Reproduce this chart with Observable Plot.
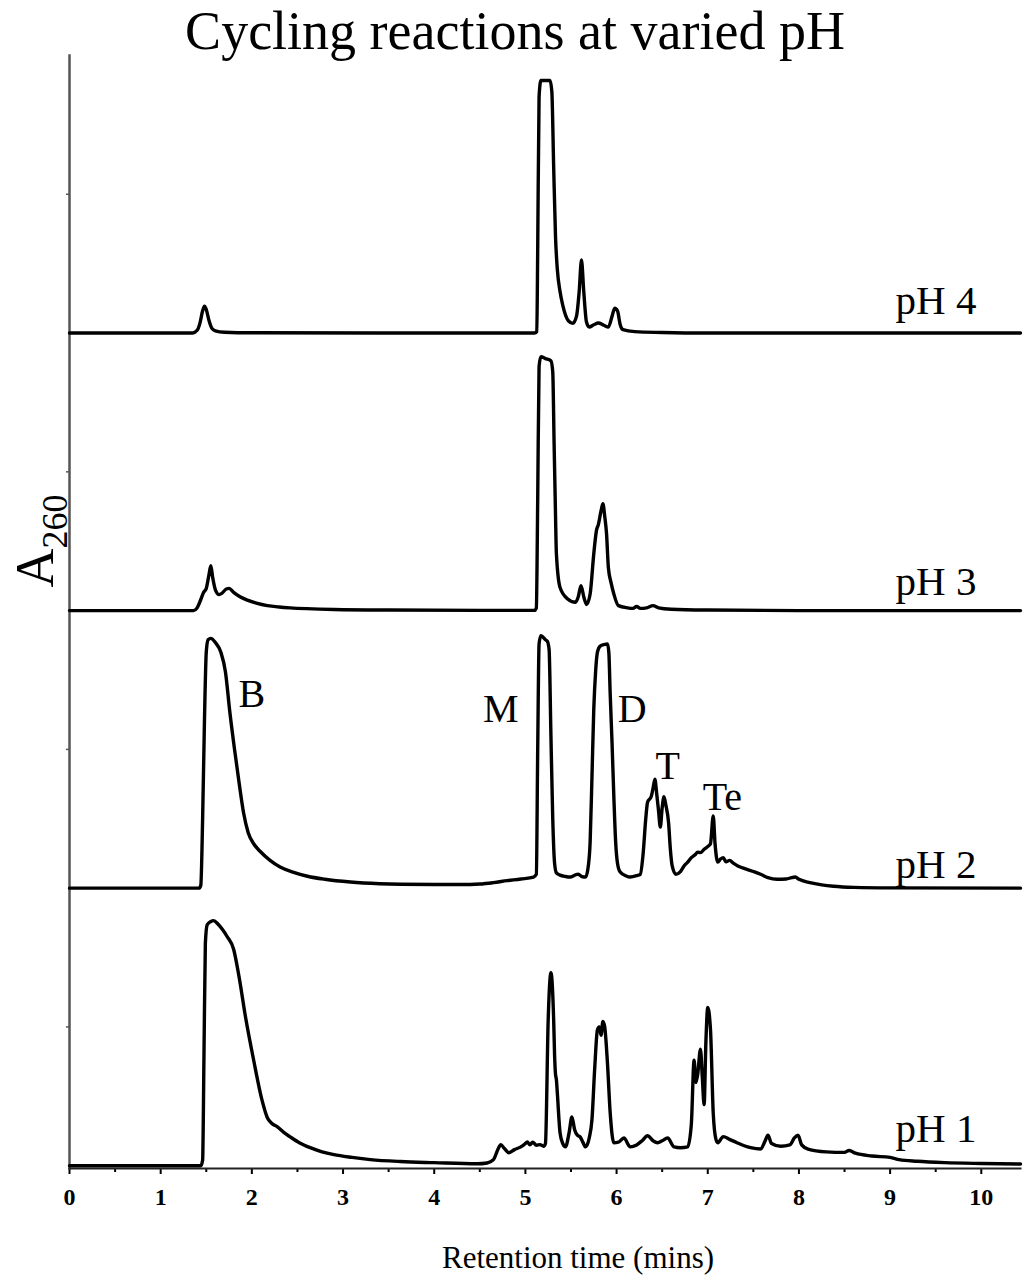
<!DOCTYPE html>
<html>
<head>
<meta charset="utf-8">
<script src="https://cdn.jsdelivr.net/npm/d3@7"></script>
<script src="https://cdn.jsdelivr.net/npm/@observablehq/plot@0.6"></script>
<style>
  html, body { margin: 0; padding: 0; background: #fff; }
  #chart svg { display: block; }
  g[aria-label="x-axis tick label"] text { font-weight: bold; }
</style>
</head>
<body>
<div id="chart"></div>
<script>
// ---------- data (retention time in mins, A260 in arbitrary units) ----------
const seriesNames = ["pH 1", "pH 2", "pH 3", "pH 4"];

const pH1 = [[0,0],[1.44,0],[1.46,0.02],[1.475,0.4],[1.49,0.8],[1.51,0.868],[1.55,0.88],[1.58,0.883],[1.63,0.87],[1.68,0.85],[1.73,0.825],[1.80,0.78],[1.86,0.68],[1.93,0.537],[2.02,0.38],[2.11,0.238],[2.17,0.173],[2.22,0.152],[2.28,0.14],[2.35,0.12],[2.42,0.104],[2.52,0.083],[2.64,0.065],[2.77,0.05],[2.90,0.04],[3.1,0.03],[3.3,0.022],[3.63,0.015],[4.0,0.011],[4.47,0.007],[4.58,0.01],[4.65,0.022],[4.70,0.06],[4.73,0.076],[4.77,0.062],[4.82,0.047],[4.88,0.058],[4.95,0.068],[5.0,0.08],[5.02,0.086],[5.05,0.075],[5.08,0.085],[5.12,0.074],[5.16,0.076],[5.20,0.07],[5.22,0.08],[5.25,0.526],[5.28,0.695],[5.31,0.526],[5.32,0.40],[5.33,0.33],[5.34,0.31],[5.35,0.263],[5.38,0.119],[5.41,0.08],[5.44,0.068],[5.48,0.12],[5.51,0.176],[5.54,0.13],[5.57,0.11],[5.60,0.104],[5.63,0.085],[5.66,0.068],[5.70,0.1],[5.73,0.166],[5.76,0.35],[5.79,0.49],[5.81,0.50],[5.83,0.47],[5.85,0.52],[5.87,0.5],[5.90,0.37],[5.93,0.19],[5.97,0.083],[6.02,0.085],[6.08,0.1],[6.15,0.068],[6.22,0.075],[6.28,0.09],[6.34,0.108],[6.40,0.09],[6.45,0.083],[6.50,0.09],[6.56,0.1],[6.63,0.068],[6.7,0.065],[6.78,0.068],[6.82,0.15],[6.85,0.38],[6.87,0.30],[6.89,0.33],[6.92,0.42],[6.94,0.32],[6.96,0.22],[6.98,0.45],[7.0,0.57],[7.03,0.49],[7.06,0.19],[7.09,0.095],[7.11,0.083],[7.17,0.105],[7.24,0.095],[7.32,0.083],[7.40,0.072],[7.47,0.065],[7.58,0.06],[7.63,0.09],[7.66,0.11],[7.70,0.08],[7.8,0.07],[7.9,0.075],[7.95,0.1],[7.99,0.11],[8.03,0.075],[8.1,0.06],[8.3,0.05],[8.5,0.048],[8.55,0.055],[8.62,0.045],[8.8,0.035],[9.0,0.03],[9.1,0.022],[9.3,0.016],[9.6,0.011],[10.0,0.008],[10.43,0.006]];

const pH2 = [[0,0],[1.42,0],[1.44,0.01],[1.46,0.25],[1.48,0.6],[1.50,0.85],[1.52,0.895],[1.55,0.90],[1.60,0.885],[1.66,0.85],[1.71,0.78],[1.76,0.63],[1.81,0.50],[1.86,0.38],[1.91,0.27],[1.96,0.20],[2.02,0.16],[2.09,0.133],[2.2,0.1],[2.31,0.076],[2.45,0.058],[2.61,0.043],[2.8,0.032],[3.08,0.022],[3.4,0.016],[3.63,0.014],[4.0,0.013],[4.29,0.013],[4.5,0.015],[4.65,0.02],[4.8,0.027],[4.95,0.033],[5.09,0.04],[5.12,0.05],[5.135,0.5],[5.15,0.88],[5.17,0.91],[5.22,0.895],[5.24,0.89],[5.26,0.86],[5.28,0.55],[5.30,0.25],[5.32,0.09],[5.34,0.055],[5.38,0.047],[5.44,0.042],[5.49,0.04],[5.55,0.048],[5.58,0.05],[5.62,0.042],[5.66,0.04],[5.69,0.08],[5.71,0.166],[5.73,0.4],[5.75,0.645],[5.77,0.78],[5.79,0.85],[5.82,0.872],[5.87,0.878],[5.90,0.88],[5.915,0.85],[5.93,0.7],[5.95,0.526],[5.97,0.33],[5.99,0.166],[6.01,0.09],[6.04,0.058],[6.10,0.045],[6.15,0.04],[6.22,0.045],[6.26,0.05],[6.29,0.12],[6.32,0.25],[6.34,0.31],[6.38,0.33],[6.40,0.36],[6.42,0.393],[6.44,0.34],[6.46,0.28],[6.48,0.22],[6.50,0.29],[6.52,0.33],[6.54,0.30],[6.57,0.237],[6.59,0.14],[6.61,0.08],[6.65,0.05],[6.70,0.06],[6.74,0.08],[6.78,0.094],[6.82,0.11],[6.86,0.12],[6.89,0.13],[6.92,0.128],[6.96,0.14],[7.0,0.15],[7.03,0.16],[7.06,0.26],[7.08,0.16],[7.11,0.094],[7.14,0.105],[7.17,0.11],[7.20,0.095],[7.24,0.10],[7.28,0.09],[7.33,0.08],[7.39,0.072],[7.43,0.068],[7.50,0.06],[7.58,0.05],[7.66,0.038],[7.76,0.032],[7.86,0.033],[7.92,0.038],[7.96,0.04],[8.0,0.032],[8.12,0.02],[8.25,0.012],[8.38,0.007],[8.6,0.003],[9.0,0.001],[10.43,0]];

const pH3 = [[0,0],[1.36,0],[1.40,0.01],[1.44,0.04],[1.47,0.065],[1.50,0.08],[1.53,0.13],[1.55,0.162],[1.57,0.12],[1.60,0.075],[1.64,0.058],[1.67,0.062],[1.72,0.078],[1.75,0.08],[1.80,0.066],[1.87,0.05],[1.95,0.038],[2.05,0.027],[2.17,0.018],[2.3,0.013],[2.42,0.01],[2.6,0.007],[2.9,0.004],[3.5,0.002],[4.5,0.001],[5.10,0.001],[5.12,0.01],[5.135,0.4],[5.15,0.88],[5.17,0.915],[5.22,0.908],[5.28,0.90],[5.30,0.86],[5.315,0.6],[5.33,0.35],[5.34,0.205],[5.38,0.083],[5.46,0.043],[5.55,0.03],[5.58,0.05],[5.61,0.09],[5.64,0.05],[5.67,0.022],[5.71,0.06],[5.75,0.205],[5.78,0.29],[5.80,0.31],[5.83,0.36],[5.85,0.385],[5.87,0.34],[5.89,0.277],[5.91,0.155],[5.94,0.1],[5.97,0.06],[6.02,0.018],[6.12,0.01],[6.18,0.008],[6.22,0.015],[6.26,0.008],[6.33,0.01],[6.40,0.018],[6.46,0.01],[6.6,0.005],[7,0.002],[8,0],[10.43,0]];

const pH4 = [[0,0],[1.35,0],[1.40,0.01],[1.43,0.035],[1.46,0.08],[1.48,0.097],[1.50,0.085],[1.53,0.045],[1.56,0.018],[1.60,0.008],[1.70,0.003],[2.0,0.001],[5.10,0],[5.125,0.005],[5.135,0.3],[5.15,0.85],[5.17,0.91],[5.27,0.91],[5.29,0.87],[5.31,0.6],[5.33,0.35],[5.35,0.23],[5.38,0.15],[5.41,0.10],[5.47,0.045],[5.52,0.035],[5.56,0.06],[5.59,0.15],[5.615,0.263],[5.64,0.15],[5.67,0.04],[5.70,0.022],[5.75,0.03],[5.80,0.036],[5.86,0.028],[5.91,0.022],[5.95,0.06],[5.98,0.09],[6.01,0.08],[6.04,0.03],[6.07,0.012],[6.2,0.005],[6.5,0.002],[7,0],[10.43,0]];

const traces = [pH1, pH2, pH3, pH4];

// series labels (time, A260 within own trace)
const seriesLabelTime = [9.06, 9.06, 9.06, 9.06];
const seriesLabelA = [0.084, 0.035, 0.058, 0.067];

// peak labels on the pH 2 trace
const peakLabels = ["B", "M", "D", "T", "Te"];
const peakLabelTime = [2.0, 4.73, 6.17, 6.56, 7.16];
const peakLabelA = [0.651, 0.597, 0.597, 0.395, 0.28];

const majorTicks = d3.range(0, 11, 1);
const minorTicks = d3.range(0.5, 10.5, 1);
const yTicks = [0.5, 1.5, 2.5, 3.5];

const titleText = "Cycling reactions at varied pH";
const xLabel = "Retention time (mins)";

// ---------- build rows ----------
const rows = traces.flatMap((tr, i) => tr.map(([t, a]) => ({series: seriesNames[i], t, a, k: i})));
const seriesRows = seriesNames.map((s, i) => ({s, t: seriesLabelTime[i], a: seriesLabelA[i], k: i}));
const peakRows = peakLabels.map((s, i) => ({s, t: peakLabelTime[i], a: peakLabelA[i], k: 1}));

const serif = "'Liberation Serif', 'Times New Roman', Times, serif";

const chart = Plot.plot({
  width: 1024,
  height: 1282,
  marginLeft: 69,
  marginRight: 4,
  marginTop: 55,
  marginBottom: 114,
  x: {domain: [0, 10.43]},
  y: {domain: [-0.01, 4.0]},
  style: {fontFamily: serif, background: "#fff", color: "#000", overflow: "visible"},
  marks: [
    Plot.axisX({ticks: minorTicks, tickSize: 4, tickFormat: () => "", strokeWidth: 2, label: null}),
    Plot.axisX({ticks: majorTicks, tickSize: 6, tickPadding: 13, fontSize: 24, fontWeight: "bold", strokeWidth: 2, tickFormat: d3.format("d"), label: null}),
    Plot.axisY({ticks: yTicks, tickSize: 3, tickFormat: () => "", stroke: "#555", strokeWidth: 1.5, label: null}),
    Plot.frame({anchor: "left", stroke: "#555", strokeWidth: 2.5}),
    Plot.frame({anchor: "bottom", stroke: "#222", strokeWidth: 2}),
    Plot.line(rows, {x: "t", y: d => d.a + d.k, z: "series", stroke: "#000", strokeWidth: 3.4, curve: "monotone-x", strokeLinejoin: "round"}),
    Plot.text(seriesRows, {x: "t", y: d => d.a + d.k, text: "s", textAnchor: "start", lineAnchor: "bottom", fontSize: 41}),
    Plot.text(peakRows, {x: "t", y: d => d.a + d.k, text: "s", textAnchor: "middle", lineAnchor: "bottom", fontSize: 40}),
    Plot.text([titleText], {text: d => d, frameAnchor: "top", dx: -30, dy: -7, lineAnchor: "bottom", fontSize: 54}),
    Plot.text([xLabel], {text: d => d, frameAnchor: "bottom", dx: 33, dy: 99, lineAnchor: "bottom", fontSize: 31})
  ]
});

// y-axis label with subscript
const yl = d3.select(chart).append("text")
  .attr("transform", "translate(53,541) rotate(-90)")
  .attr("text-anchor", "middle")
  .attr("font-family", serif)
  .attr("font-size", 54)
  .attr("fill", "#000");
yl.append("tspan").text("A");
yl.append("tspan").attr("font-size", 36).attr("dy", 14).text("260");

document.getElementById("chart").appendChild(chart);
</script>
</body>
</html>
